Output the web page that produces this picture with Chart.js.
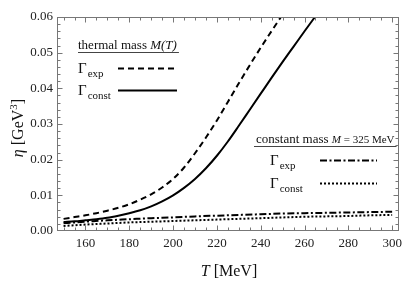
<!DOCTYPE html>
<html>
<head>
<meta charset="utf-8">
<script src="https://cdn.jsdelivr.net/npm/chart.js"></script>
<style>
  html, body { margin: 0; padding: 0; background: #fff; }
  #wrap { width: 407px; height: 288px; }
</style>
</head>
<body>
<div id="wrap"><canvas id="chart" width="407" height="288"></canvas></div>
<script>
// temperature grids (MeV)
const tThermal = [150, 155, 160, 165, 170, 175, 180, 185, 190, 195, 200, 205, 210,
                  215, 220, 225, 230, 235, 240, 245, 250, 255, 260, 265, 270];
const tConst = [150, 160, 170, 180, 190, 200, 210, 220, 230, 240, 250, 260, 270, 280, 290, 300];

// thermal mass M(T)
const etaThermalExp = [0.0034, 0.0039, 0.0044, 0.0050, 0.0057, 0.0065, 0.0075, 0.0088, 0.0103,
                       0.0122, 0.0146, 0.0178, 0.0218, 0.0262, 0.0310, 0.0362, 0.0414, 0.0465,
                       0.0514, 0.0561, 0.0607, 0.0652, 0.0696, 0.0740, 0.0780];
const etaThermalConst = [0.0025, 0.0027, 0.0030, 0.0033, 0.0037, 0.0043, 0.0050, 0.0058, 0.0069,
                         0.0083, 0.0100, 0.0121, 0.0146, 0.0176, 0.0211, 0.0251, 0.0295, 0.0340,
                         0.0385, 0.0430, 0.0474, 0.0517, 0.0560, 0.0602, 0.0644];

// constant mass M = 325 MeV
const etaConstExp = [0.0022, 0.0026, 0.0030, 0.0033, 0.0036, 0.0038, 0.0041, 0.0043,
                     0.0045, 0.0047, 0.0049, 0.0050, 0.0051, 0.0052, 0.0053, 0.0054];
const etaConstConst = [0.0014, 0.0018, 0.0021, 0.0024, 0.0026, 0.0028, 0.0030, 0.0032,
                       0.0034, 0.0036, 0.0038, 0.0040, 0.0041, 0.0042, 0.0044, 0.0045];

// axis ticks
const xTicks = [160, 180, 200, 220, 240, 260, 280, 300];
const yTicks = [0, 0.01, 0.02, 0.03, 0.04, 0.05, 0.06];

const SERIF = '"Liberation Serif", "DejaVu Serif", serif';

function pts(xs, ys) {
    return xs.map((x, i) => ({ x: x, y: ys[i] }));
}

function line(data, dash) {
    return {
        data: data,
        borderColor: '#000',
        borderWidth: 2,
        borderDash: dash,
        pointRadius: 0,
        fill: false,
        cubicInterpolationMode: 'monotone',
        clip: 0
    };
}

// Γ with a subscript
function gamma(ctx, x, y, sub) {
    ctx.font = '15px ' + SERIF;
    ctx.fillText('\u0393', x, y);
    const w = ctx.measureText('\u0393').width;
    ctx.font = '11px ' + SERIF;
    ctx.fillText(sub, x + w + 1, y + 4);
}

function sample(ctx, x0, x1, y, dash) {
    ctx.save();
    ctx.strokeStyle = '#000';
    ctx.lineWidth = 2;
    ctx.setLineDash(dash);
    ctx.beginPath();
    ctx.moveTo(x0, y);
    ctx.lineTo(x1, y);
    ctx.stroke();
    ctx.restore();
}

// frame, inner ticks, axis titles and legends
const decorations = {
    id: 'decorations',
    afterDraw(chart) {
        const ctx = chart.ctx;
        const ca = chart.chartArea;
        const xs = chart.scales.x, ys = chart.scales.y;
        const l = Math.round(ca.left) + 0.5, r = Math.round(ca.right) - 0.5;
        const t = Math.round(ca.top) + 0.5, b = Math.round(ca.bottom) - 0.5;

        ctx.save();
        ctx.strokeStyle = '#777';
        ctx.lineWidth = 1;
        ctx.strokeRect(l, t, r - l, b - t);

        ctx.beginPath();
        for (let v = 150; v <= 300; v += 5) {
            const px = Math.round(xs.getPixelForValue(v)) + 0.5;
            const len = v % 20 === 0 ? 5 : 3;
            ctx.moveTo(px, b); ctx.lineTo(px, b - len);
            ctx.moveTo(px, t); ctx.lineTo(px, t + len);
        }
        for (let k = 1; k < 30; k++) {
            const py = Math.round(ys.getPixelForValue(k * 0.002)) + 0.5;
            const len = k % 5 === 0 ? 5 : 3;
            ctx.moveTo(l, py); ctx.lineTo(l + len, py);
            ctx.moveTo(r, py); ctx.lineTo(r - len, py);
        }
        ctx.stroke();

        ctx.fillStyle = '#111';
        ctx.textBaseline = 'alphabetic';

        // x title
        ctx.font = 'italic 16px ' + SERIF;
        let w1 = ctx.measureText('T').width;
        ctx.font = '16px ' + SERIF;
        let w2 = ctx.measureText(' [MeV]').width;
        let x0 = 229 - (w1 + w2) / 2;
        ctx.font = 'italic 16px ' + SERIF;
        ctx.fillText('T', x0, 276);
        ctx.font = '16px ' + SERIF;
        ctx.fillText(' [MeV]', x0 + w1, 276);

        // y title
        ctx.save();
        ctx.translate(23, 128);
        ctx.rotate(-Math.PI / 2);
        ctx.font = 'italic 16px ' + SERIF;
        const a = ctx.measureText('\u03b7').width;
        ctx.font = '16px ' + SERIF;
        const bw = ctx.measureText(' [GeV').width;
        ctx.font = '11px ' + SERIF;
        const cw = ctx.measureText('3').width;
        ctx.font = '16px ' + SERIF;
        const dw = ctx.measureText(']').width;
        let sx = -(a + bw + cw + dw) / 2;
        ctx.font = 'italic 16px ' + SERIF;
        ctx.fillText('\u03b7', sx, 0);
        ctx.font = '16px ' + SERIF;
        ctx.fillText(' [GeV', sx + a, 0);
        ctx.font = '11px ' + SERIF;
        ctx.fillText('3', sx + a + bw, -6);
        ctx.font = '16px ' + SERIF;
        ctx.fillText(']', sx + a + bw + cw, 0);
        ctx.restore();

        // legend: thermal mass
        ctx.font = '13px ' + SERIF;
        ctx.fillText('thermal mass ', 78, 49);
        let hw = ctx.measureText('thermal mass ').width;
        ctx.font = 'italic 13px ' + SERIF;
        ctx.fillText('M(T)', 78 + hw, 49);
        hw += ctx.measureText('M(T)').width;
        ctx.strokeStyle = '#444';
        ctx.lineWidth = 1;
        ctx.beginPath();
        ctx.moveTo(78, 52.5); ctx.lineTo(78 + hw + 2, 52.5);
        ctx.stroke();

        gamma(ctx, 78, 73, 'exp');
        sample(ctx, 118, 177, 68.5, [6, 4]);
        gamma(ctx, 78, 95, 'const');
        sample(ctx, 118, 177, 90.5, []);

        // legend: constant mass
        ctx.font = '13px ' + SERIF;
        ctx.fillText('constant mass ', 256, 143);
        let cw2 = ctx.measureText('constant mass ').width;
        ctx.font = 'italic 11px ' + SERIF;
        ctx.fillText('M', 256 + cw2, 143);
        cw2 += ctx.measureText('M').width;
        ctx.font = '11px ' + SERIF;
        ctx.fillText(' = 325 MeV', 256 + cw2, 143);
        cw2 += ctx.measureText(' = 325 MeV').width;
        ctx.beginPath();
        ctx.moveTo(254, 146.5); ctx.lineTo(256 + cw2 + 2, 146.5);
        ctx.stroke();

        gamma(ctx, 270, 165, 'exp');
        sample(ctx, 320, 377, 160.5, [7, 2.5, 2, 2.5]);
        gamma(ctx, 270, 188, 'const');
        sample(ctx, 320, 377, 183.5, [2, 2]);

        ctx.restore();
    }
};

new Chart(document.getElementById('chart'), {
    type: 'line',
    data: {
        datasets: [
            line(pts(tThermal, etaThermalExp), [6, 4]),
            line(pts(tThermal, etaThermalConst), []),
            line(pts(tConst, etaConstExp), [7, 2.5, 2, 2.5]),
            line(pts(tConst, etaConstConst), [2, 2])
        ]
    },
    options: {
        responsive: false,
        animation: false,
        layout: { padding: { top: 17, right: 6, left: 0, bottom: 0 } },
        plugins: {
            legend: { display: false },
            tooltip: { enabled: false }
        },
        scales: {
            x: {
                type: 'linear',
                min: 147,
                max: 303,
                grid: { display: false, drawTicks: false },
                border: { display: false },
                afterBuildTicks: function(scale) {
                    scale.ticks = xTicks.map(v => ({ value: v }));
                },
                afterFit: function(scale) { scale.height = 57; },
                ticks: {
                    padding: 5,
                    maxRotation: 0,
                    color: '#222',
                    font: { family: SERIF, size: 13 }
                }
            },
            y: {
                type: 'linear',
                min: 0,
                max: 0.06,
                grid: { display: false, drawTicks: false },
                border: { display: false },
                afterBuildTicks: function(scale) {
                    scale.ticks = yTicks.map(v => ({ value: v }));
                },
                afterFit: function(scale) { scale.width = 57; },
                ticks: {
                    padding: 4,
                    color: '#222',
                    font: { family: SERIF, size: 13 },
                    callback: function(value) { return value.toFixed(2); }
                }
            }
        }
    },
    plugins: [decorations]
});
</script>
</body>
</html>
